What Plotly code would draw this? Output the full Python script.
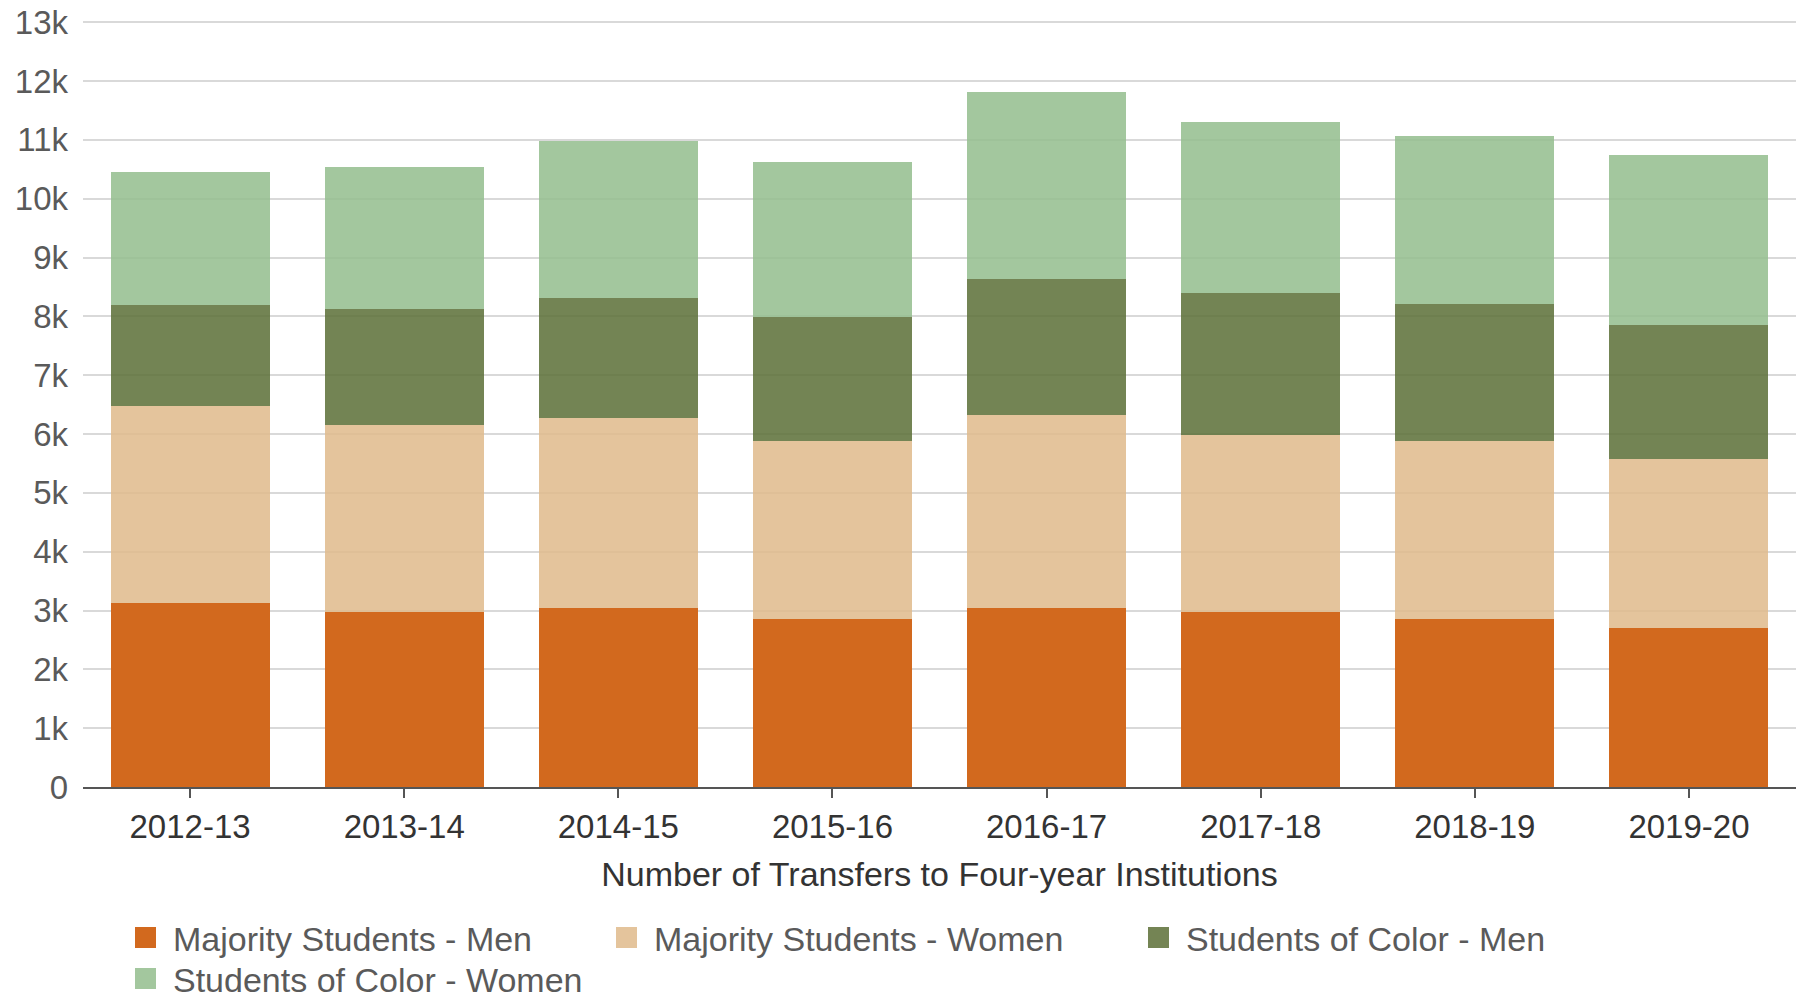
import plotly.graph_objects as go

years = ["2012-13", "2013-14", "2014-15", "2015-16", "2016-17", "2017-18", "2018-19", "2019-20"]
majority_men = [3130, 2970, 3050, 2860, 3050, 2970, 2860, 2710]
majority_women = [3340, 3190, 3230, 3020, 3270, 3020, 3020, 2870]
color_men = [1730, 1960, 2030, 2110, 2310, 2400, 2330, 2270]
color_women = [2260, 2410, 2670, 2630, 3180, 2910, 2850, 2890]

# name, values, bar colour, legend swatch colour (bar colour as seen on white), legend id
series = [
    ("Majority Students - Men", majority_men, "rgb(210,105,30)", "rgb(210,105,30)", "legend"),
    ("Majority Students - Women", majority_women, "rgba(223,186,139,0.85)", "rgb(228,196,156)", "legend2"),
    ("Students of Color - Men", color_men, "rgba(91,110,54,0.85)", "rgb(116,132,84)", "legend3"),
    ("Students of Color - Women", color_women, "rgba(147,189,141,0.85)", "rgb(163,199,158)", "legend4"),
]

FONT = "Liberation Sans, Arial, sans-serif"

fig = go.Figure()
for name, vals, col, swatch, lg in series:
    fig.add_trace(go.Bar(
        x=years, y=vals, name=name, legend=lg, showlegend=False,
        marker=dict(color=col, line=dict(width=0)),
    ))
    # legend-only entry with a larger square swatch
    fig.add_trace(go.Scatter(
        x=[None], y=[None], mode="markers", name=name, legend=lg,
        marker=dict(symbol="square", size=16, color=swatch,
                    line=dict(width=5, color=swatch)),
        hoverinfo="skip",
    ))

W, H = 1796, 1001
L, R, T, B = 83, 0, 21, 214
pw, ph = W - L - R, H - T - B

def px_to_paper_x(px):
    return (px - L) / pw

def px_to_paper_y(py):
    return (H - B - py) / ph

leg_common = dict(
    orientation="h", xanchor="left", yanchor="middle",
    font=dict(family=FONT, size=34, color="#5a5a5a"),
    bgcolor="rgba(0,0,0,0)", itemwidth=45, itemsizing="trace",
)

fig.update_layout(
    width=W, height=H,
    margin=dict(l=L, r=R, t=T, b=B, autoexpand=False),
    paper_bgcolor="white", plot_bgcolor="white",
    barmode="stack", bargap=0.257,
    font=dict(family=FONT),
    legend=dict(x=px_to_paper_x(118), y=px_to_paper_y(938), **leg_common),
    legend2=dict(x=px_to_paper_x(599), y=px_to_paper_y(938), **leg_common),
    legend3=dict(x=px_to_paper_x(1131), y=px_to_paper_y(938), **leg_common),
    legend4=dict(x=px_to_paper_x(118), y=px_to_paper_y(979), **leg_common),
    xaxis=dict(
        type="category", automargin=False,
        showline=True, linecolor="#555555", linewidth=2,
        ticks="outside", ticklen=9, tickwidth=2, tickcolor="#555555",
        tickfont=dict(family=FONT, size=33, color="#333333"),
        title=dict(text="Number of Transfers to Four-year Institutions",
                   font=dict(family=FONT, size=34, color="#333333"), standoff=19),
        showgrid=False,
    ),
    yaxis=dict(
        range=[0, 13020], tick0=0, dtick=1000, tickformat="~s", automargin=False,
        showgrid=True, gridcolor="#d9d9d9", gridwidth=2,
        zeroline=False, showline=False, ticklabelstandoff=14,
        tickfont=dict(family=FONT, size=33, color="#5a5a5a"),
    ),
    showlegend=True,
)

fig.write_html(
    "out.html",
    config={"displayModeBar": False},
    post_script="document.body.style.margin='0';document.body.style.overflow='hidden';",
)
